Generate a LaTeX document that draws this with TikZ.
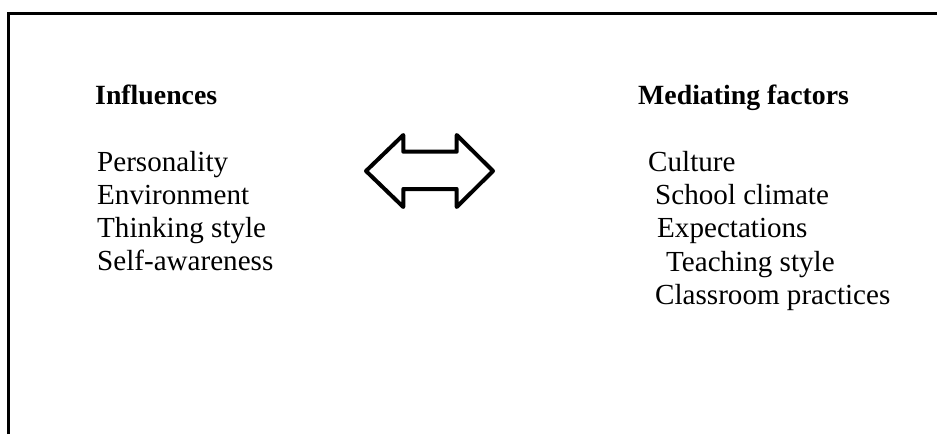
\documentclass[tikz,border=0pt]{standalone}
\usepackage{fontspec}
\setmainfont{Liberation Serif}
\begin{document}
\begin{tikzpicture}[x=1pt,y=-1pt,
  txt/.style={anchor=base west,inner sep=0pt,font=\fontsize{29.1}{33}\selectfont},
  hdr/.style={txt,font=\fontsize{27.8}{33}\selectfont\bfseries},
  frame/.style={line width=3pt,line join=miter},
  dblarrow/.style={line width=4pt,line join=round}]
\useasboundingbox (0,0) rectangle (937,434);
% frame (top and left edges)
\draw[frame] (8.5,434) -- (8.5,13) -- (937,13);
% left column
\node[hdr] (infl) at (95,104) {Influences};
\node[txt] (pers) at (97,171) {Personality};
\node[txt] (env) at (97,204) {Environment};
\node[txt] (think) at (97,237) {Thinking style};
\node[txt] (self) at (97,270) {Self-awareness};
% right column
\node[hdr] (med) at (638,104) {Mediating factors};
\node[txt] (cult) at (648,171) {Culture};
\node[txt] (school) at (655,204) {School climate};
\node[txt] (expect) at (657,237) {Expectations};
\node[txt] (teach) at (666,271) {Teaching style};
\node[txt] (class) at (655,304) {Classroom practices};
% double-headed block arrow
\draw[dblarrow] (366,171) -- (403.3,135) -- (403.3,151.7) -- (456.7,151.7) -- (456.7,135)
  -- (493,171) -- (456.7,207) -- (456.7,189) -- (403.3,189) -- (403.3,207) -- cycle;
\end{tikzpicture}
\end{document}
